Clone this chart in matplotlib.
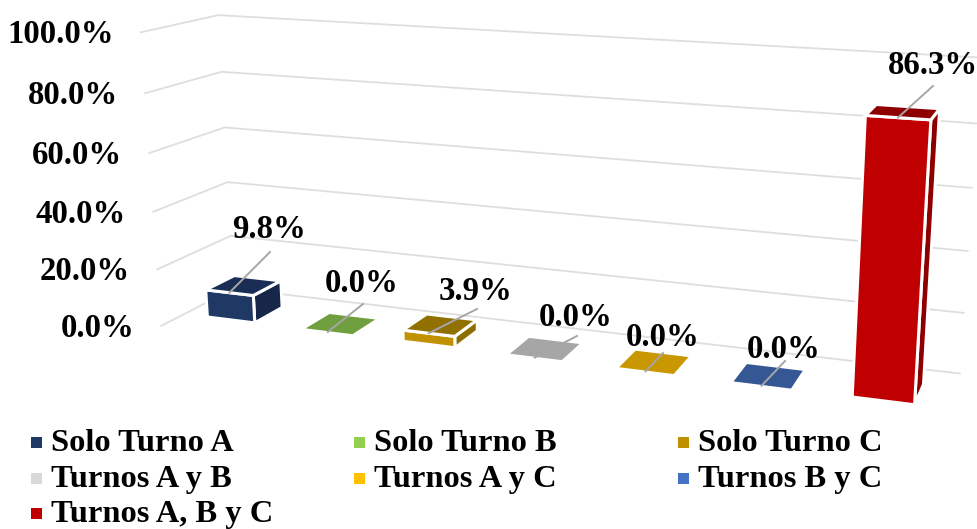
import numpy as np
import matplotlib
matplotlib.use('Agg')
import matplotlib.pyplot as plt
from matplotlib.patches import Polygon, Rectangle

categorias = ['Solo Turno A', 'Solo Turno B', 'Solo Turno C', 'Turnos A y B',
              'Turnos A y C', 'Turnos B y C', 'Turnos A, B y C']
valores = [9.8, 0.0, 3.9, 0.0, 0.0, 0.0, 86.3]
ticks = [0, 20, 40, 60, 80, 100]

# legend colour, then front / top / side faces of each bar
color_leyenda = ['#1F3864', '#92D050', '#BF9000', '#D9D9D9', '#FFC000', '#4472C4', '#C00000']
color_frente = ['#203864', '#6F9F3E', '#C29100', '#A6A6A6', '#C99700', '#355895', '#C00000']
color_arriba = ['#1A2E55', '#6F9F3E', '#917000', '#A6A6A6', '#C99700', '#355895', '#8E0000']
color_lado = ['#16274A', '#6F9F3E', '#8C6D00', '#A6A6A6', '#C99700', '#355895', '#8E0000']

# leader line end (pixels) and label centre for each bar
fin_guia = [(270, 252), (363, 304), (477, 309), (577, 336), (663, 353), (785, 361), (933, 86)]
pos_etiqueta = [(269, 230), (362, 284), (476, 291), (576, 317), (663, 338), (784, 349), (933, 66)]

GAP = 0.25
D_FRENTE, D_FONDO = 0.3, 0.7

# anchors for the 3D view: category, depth, value -> screen pixel
ANCLAS = [
    (0, 1, 0, 235, 290), (0, 1, 100, 219, 14), (0, 0, 0, 160, 327), (0, 0, 100, 140, 33),
    (7, 1, 0, 962, 374), (7, 1, 100, 977, 56),
    (1.25, .3, 0, 307, 327), (1.75, .3, 0, 352, 333), (1.75, .7, 0, 373, 319), (1.25, .7, 0, 330, 314),
    (5.25, .3, 0, 734, 382), (5.75, .3, 0, 790, 388), (5.75, .7, 0, 801, 371), (5.25, .7, 0, 747, 364),
    (6.25, .3, 0, 854, 397), (6.75, .3, 0, 913, 404),
    (6.25, .3, 86.3, 866, 117), (6.75, .3, 86.3, 931, 121),
    (6.25, .7, 86.3, 879, 103), (6.75, .7, 86.3, 940, 110),
]


def ajustar_camara(anclas):
    # direct linear transform, last matrix entry fixed to 1
    A, b = [], []
    for x, d, v, u, w in anclas:
        A.append([x, d, v, 1, 0, 0, 0, 0, -u * x, -u * d, -u * v])
        b.append(u)
        A.append([0, 0, 0, 0, x, d, v, 1, -w * x, -w * d, -w * v])
        b.append(w)
    p = np.linalg.lstsq(np.array(A, float), np.array(b, float), rcond=None)[0]
    return np.append(p, 1).reshape(3, 4)


CAM = ajustar_camara(ANCLAS)


def proy(x, d, v):
    q = CAM @ np.array([x, d, v, 1.0])
    return q[0] / q[2], q[1] / q[2]


fig = plt.figure(figsize=(9.77, 5.29), dpi=100)
ax = fig.add_axes([0, 0, 1, 1])
ax.set_xlim(0, 977)
ax.set_ylim(529, 0)
ax.axis('off')

fuente = dict(family='Liberation Serif', fontweight='bold', color='black')

# grid on the side and back walls, with the value axis labels
for t in ticks:
    pts = [proy(0, 0, t), proy(0, 1, t), proy(7, 1, t)]
    ax.plot(*zip(*pts), color='#DEDEDE', lw=1.3, zorder=1)
    x0, y0 = pts[0]
    ax.text(x0 - 27, y0 + 2.5, f'{t:.1f}%', ha='right', va='center', fontsize=23.6, zorder=5, **fuente)

# bars
for i, v in enumerate(valores):
    x0, x1 = i + GAP, i + 1 - GAP
    if v > 0:
        lado = [proy(x1, D_FRENTE, 0), proy(x1, D_FONDO, 0), proy(x1, D_FONDO, v), proy(x1, D_FRENTE, v)]
        frente = [proy(x0, D_FRENTE, 0), proy(x1, D_FRENTE, 0), proy(x1, D_FRENTE, v), proy(x0, D_FRENTE, v)]
        ax.add_patch(Polygon(lado, fc=color_lado[i], ec='white', lw=2.2, zorder=2))
        ax.add_patch(Polygon(frente, fc=color_frente[i], ec='white', lw=2.2, zorder=2))
    arriba = [proy(x0, D_FRENTE, v), proy(x1, D_FRENTE, v), proy(x1, D_FONDO, v), proy(x0, D_FONDO, v)]
    ax.add_patch(Polygon(arriba, fc=color_arriba[i], ec='white', lw=2.2 if v > 0 else 1.2, zorder=2))

    # leader line from the middle of the top front edge up to the label
    xa, ya = proy(i + 0.5, D_FRENTE, v)
    ax.plot([xa, fin_guia[i][0]], [ya, fin_guia[i][1]], color='#A6A6A6', lw=1.4, zorder=3)
    ax.text(pos_etiqueta[i][0], pos_etiqueta[i][1], f'{v:.1f}%', ha='center', va='center',
            fontsize=23.6, zorder=5, **fuente)

# legend, three columns filled row by row
col_x = [31, 354, 678]
fila_y = [442, 478, 513]
for i, nombre in enumerate(categorias):
    fila, col = divmod(i, 3)
    ax.add_patch(Rectangle((col_x[col], fila_y[fila] - 5.5), 11, 11, fc=color_leyenda[i], ec='none'))
    ax.text(col_x[col] + 20, fila_y[fila] + 1.5, nombre, ha='left', va='center', fontsize=23.4, **fuente)

fig.savefig('out.png', dpi=100, facecolor='white')
